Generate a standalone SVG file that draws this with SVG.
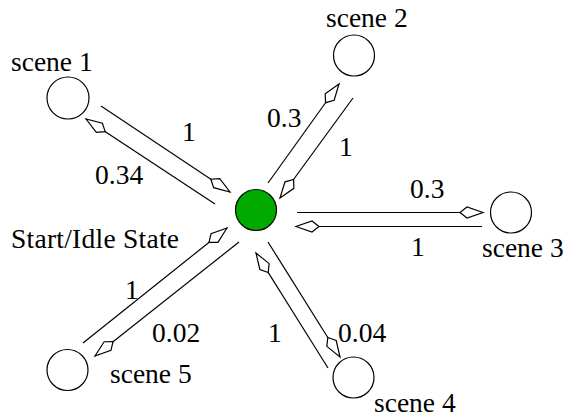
<svg xmlns="http://www.w3.org/2000/svg" width="566" height="419" viewBox="0 0 566 419">
<style>
.t{font-family:'Liberation Serif','Times New Roman',serif;font-size:27.5px;fill:#000}
.n{fill:#fff;stroke:#000;stroke-width:1.2}
.c{stroke:#000;stroke-width:1.2;fill:none;marker-end:url(#kite)}
</style>
<defs>
<marker id="kite" markerUnits="userSpaceOnUse" viewBox="-24 -7 26 14" refX="0" refY="0" markerWidth="26" markerHeight="14" orient="auto" overflow="visible">
<path d="M0,0 L-16,-5.5 L-23,0 L-16,5.5 Z" fill="#fff" stroke="#000" stroke-width="1.2" stroke-linejoin="miter"/>
</marker>
</defs>
<rect width="566" height="419" fill="#fff"/>
<g id="connectors">
<line class="c" x1="101" y1="106" x2="230" y2="192"/>
<line class="c" x1="215" y1="204" x2="86" y2="119"/>
<line class="c" x1="268" y1="183" x2="339" y2="84"/>
<line class="c" x1="353" y1="98" x2="280" y2="198"/>
<line class="c" x1="297" y1="212.5" x2="483" y2="212.5"/>
<line class="c" x1="482" y1="226.5" x2="296" y2="226.5"/>
<line class="c" x1="328" y1="368" x2="256" y2="253"/>
<line class="c" x1="268" y1="242" x2="340" y2="357"/>
<line class="c" x1="83" y1="343" x2="227" y2="228"/>
<line class="c" x1="239" y1="242" x2="95" y2="356"/>
<g class="t">
<text x="182" y="141">1</text>
<text x="95" y="184">0.34</text>
<text x="267" y="127">0.3</text>
<text x="339" y="156">1</text>
<text x="410" y="198">0.3</text>
<text x="411" y="256">1</text>
<text x="125" y="299">1</text>
<text x="152" y="342">0.02</text>
<text x="268" y="342">1</text>
<text x="338" y="342">0.04</text>
</g>
</g>
<g id="start">
<circle cx="256" cy="210" r="20.5" fill="#00aa00" stroke="#000" stroke-width="1.2"/>
<text class="t" x="11" y="248" textLength="168" lengthAdjust="spacing">Start/Idle State</text>
</g>
<g id="scene1">
<circle class="n" cx="68" cy="98" r="21"/>
<text class="t" x="11" y="71">scene 1</text>
</g>
<g id="scene2">
<circle class="n" cx="354" cy="55.5" r="20.5"/>
<text class="t" x="326" y="27">scene 2</text>
</g>
<g id="scene3">
<circle class="n" cx="511" cy="212.5" r="20.5"/>
<text class="t" x="482" y="257">scene 3</text>
</g>
<g id="scene4">
<circle class="n" cx="353.5" cy="377.5" r="20.5"/>
<text class="t" x="374" y="412">scene 4</text>
</g>
<g id="scene5">
<circle class="n" cx="67.5" cy="370" r="20.5"/>
<text class="t" x="110" y="383">scene 5</text>
</g>
</svg>
